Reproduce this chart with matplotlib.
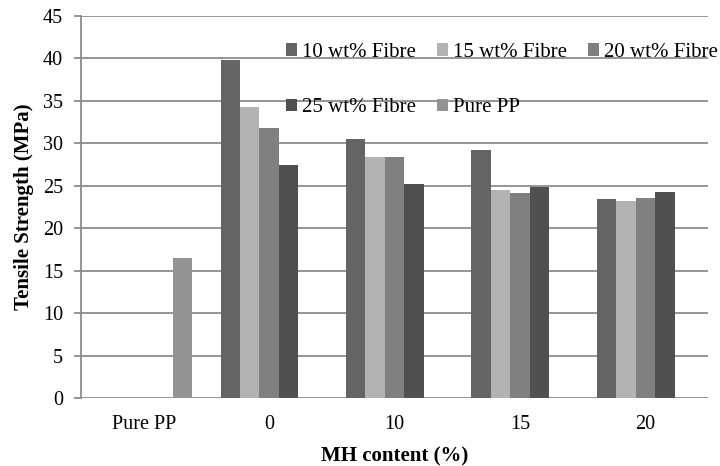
import numpy as np
import matplotlib.pyplot as plt

plt.rcParams['font.family'] = ['Liberation Serif', 'DejaVu Serif']

categories = ['Pure PP', '0', '10', '15', '20']
series = ['10 wt% Fibre', '15 wt% Fibre', '20 wt% Fibre', '25 wt% Fibre', 'Pure PP']
fibre_10 = [0, 39.8, 30.5, 29.2, 23.4]
fibre_15 = [0, 34.3, 28.4, 24.5, 23.2]
fibre_20 = [0, 31.8, 28.4, 24.1, 23.6]
fibre_25 = [0, 27.4, 25.2, 24.9, 24.2]
pure_pp = [16.5, 0, 0, 0, 0]
colors = ['#646464', '#b3b3b3', '#808080', '#505050', '#939393']

values = [fibre_10, fibre_15, fibre_20, fibre_25, pure_pp]

fig = plt.figure(figsize=(7.2, 4.66), dpi=100)
ax = fig.add_axes([0.1125, 0.146, 0.871, 0.82])

x = np.arange(len(categories))
w = 0.155
handles = []
for i, (vals, col, name) in enumerate(zip(values, colors, series)):
    b = ax.bar(x + (i - 2) * w, vals, w, color=col, label=name, zorder=3)
    handles.append(b)

ax.set_xlim(-0.5, len(categories) - 0.5)
ax.set_ylim(0, 45)
ax.set_yticks(np.arange(0, 46, 5))
ax.set_xticks(x)
ax.set_xticklabels(categories)
ax.yaxis.grid(True, color='#8c8c8c', linewidth=1.3, zorder=0)
ax.set_axisbelow(True)

for s in ['top', 'right', 'bottom']:
    ax.spines[s].set_visible(False)
ax.spines['left'].set_color('#8c8c8c')
ax.spines['left'].set_linewidth(1.3)
ax.tick_params(axis='y', length=5, color='#8c8c8c', width=1.3, labelsize=14.5, pad=8)
ax.tick_params(axis='x', length=0, labelsize=14.5, pad=12)

ax.set_ylabel('Tensile Strength (MPa)', fontsize=15, fontweight='bold', labelpad=6)
ax.set_xlabel('MH content (%)', fontsize=15, fontweight='bold', labelpad=9)

# reorder so the legend reads row by row
order = [0, 3, 1, 4, 2]
ax.legend([handles[k] for k in order], [series[k] for k in order],
          ncol=3, frameon=False, fontsize=15, loc='upper left',
          bbox_to_anchor=(0.327, 0.929), borderpad=0, borderaxespad=0,
          handlelength=0.53, handleheight=0.53, handletextpad=0.25,
          columnspacing=1.0, labelspacing=1.75)

fig.savefig('out.png', dpi=100)
